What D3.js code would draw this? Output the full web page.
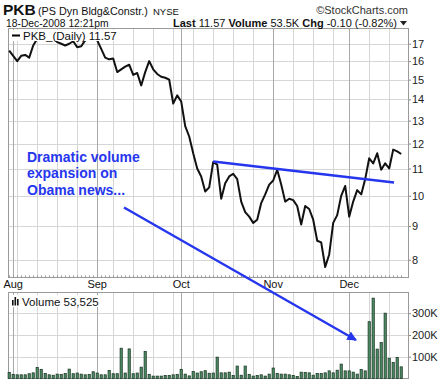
<!DOCTYPE html>
<html><head><meta charset="utf-8">
<script src="https://cdn.jsdelivr.net/npm/d3@7"></script>
<style>
html,body{margin:0;padding:0;background:#fff;}
svg{display:block;font-family:"Liberation Sans",Arial,sans-serif;}
</style></head>
<body>
<script>
// ---- data ----
const dates = ["7/31",
"8/1","8/4","8/5","8/6","8/7","8/8","8/11","8/12","8/13","8/14","8/15","8/18","8/19","8/20","8/21","8/22","8/25","8/26","8/27","8/28","8/29",
"9/2","9/3","9/4","9/5","9/8","9/9","9/10","9/11","9/12","9/15","9/16","9/17","9/18","9/19","9/22","9/23","9/24","9/25","9/26","9/29","9/30",
"10/1","10/2","10/3","10/6","10/7","10/8","10/9","10/10","10/13","10/14","10/15","10/16","10/17","10/20","10/21","10/22","10/23","10/24","10/27","10/28","10/29","10/30","10/31",
"11/3","11/4","11/5","11/6","11/7","11/10","11/11","11/12","11/13","11/14","11/17","11/18","11/19","11/20","11/21","11/24","11/25","11/26","11/28",
"12/1","12/2","12/3","12/4","12/5","12/8","12/9","12/10","12/11","12/12","12/15","12/16","12/17","12/18"];
const closes = [16.6,
16.3,16.0,16.3,16.35,16.2,16.9,17.3,17.45,17.35,17.5,17.35,17.1,17.0,16.9,17.0,17.15,16.8,16.85,17.2,17.45,17.4,
17.2,16.7,16.2,16.1,16.15,15.4,15.55,15.7,15.8,15.25,15.35,14.7,15.4,16.0,15.55,15.3,15.15,15.1,15.0,13.8,14.2,
13.9,12.75,12.3,11.6,11.0,10.7,10.15,10.3,11.25,11.15,9.9,10.45,10.7,10.8,10.6,9.8,9.45,9.3,9.1,9.2,9.75,10.05,10.4,
10.55,10.95,10.4,9.8,9.9,9.85,9.65,9.05,9.65,9.55,9.2,8.55,8.5,7.8,8.15,9.1,9.35,10.0,10.35,
9.3,9.8,10.2,10.05,10.6,11.4,11.2,11.6,10.95,11.2,11.0,11.75,11.68,11.57];
const volumes = [28000,
19000,17000,17000,17000,22000,26000,51000,42000,23000,17000,15000,20000,19000,23000,43000,22000,25000,20000,17000,19000,31000,
25000,17000,17000,37000,22000,22000,139000,25000,136000,22000,25000,52000,124000,19000,11000,11000,11000,14000,14000,17000,19000,
42000,20000,12000,32000,25000,31000,36000,24000,25000,98000,26000,26000,29000,14000,57000,15000,57000,18000,11000,14000,17000,11000,20000,
48000,23000,20000,20000,17000,14000,9000,29000,28000,26000,15000,23000,23000,26000,35000,26000,38000,66000,35000,
35000,29000,20000,41000,35000,261000,369000,135000,165000,300000,93000,74000,96000,53525];
const priceTicks = [8,9,10,11,12,13,14,15,16,17];
const volumeTicks = [100000,200000,300000];
const volumeTickLabels = ["100K","200K","300K"];
const monthLabels = ["Aug","Sep","Oct","Nov","Dec"];
// trendline and arrow annotation in data units (index, price / volume)
const trendIdx = [51, 96.2];
const trendPrice = [11.27, 10.48];
const arrowFrom = {i: 28.7, price: 9.6};
const arrowTo = {i: 86.7, vol: 177000};
const noteLines = ["Dramatic volume","expansion on","Obama news..."];

// ---- layout ----
const W = 440, H = 381;
const L = 8, R = 409;
const pTop = 28.5, pBot = 277.5;
const vTop = 292.5, vBot = 378.5;
const blue = "#2536ee";

const parsed = dates.map(s => { const [m,d] = s.split("/").map(Number); return new Date(2008, m-1, d); });
const x = d3.scaleLinear().domain([-0.3, 99.95]).range([L, R]);
const yP = d3.scaleLog().domain([7.52, 17.93]).range([pBot, pTop]);
const yV = d3.scaleLinear().domain([0, 395000]).range([vBot, vTop]);

const svg = d3.select("body").append("svg").attr("width", W).attr("height", H);

// gridline indices
const monthStarts = [], weekStarts = [];
parsed.forEach((d, i) => {
  if (i === 0) return;
  const p = parsed[i-1];
  if (d.getMonth() !== p.getMonth()) monthStarts.push(i);
  else if (d.getDay() < p.getDay()) weekStarts.push(i);
});

function panel(top, bot, yTicksPix) {
  const g = svg.append("g");
  g.selectAll(".hg").data(yTicksPix).join("line")
    .attr("x1", L).attr("x2", R).attr("y1", d => Math.round(d)+0.5).attr("y2", d => Math.round(d)+0.5)
    .attr("stroke", "#d6d6d6").attr("stroke-width", 1);
  g.selectAll(".wg").data(weekStarts).join("line")
    .attr("x1", d => Math.round(x(d))+0.5).attr("x2", d => Math.round(x(d))+0.5)
    .attr("y1", top).attr("y2", bot).attr("stroke", "#d6d6d6");
  g.selectAll(".mg").data(monthStarts).join("line")
    .attr("x1", d => Math.round(x(d))+0.5).attr("x2", d => Math.round(x(d))+0.5)
    .attr("y1", top).attr("y2", bot).attr("stroke", "#a9a9a9");
  // daily minor ticks at bottom
  g.selectAll(".dt").data(d3.range(dates.length)).join("line")
    .attr("x1", d => Math.round(x(d))+0.5).attr("x2", d => Math.round(x(d))+0.5)
    .attr("y1", bot-2).attr("y2", bot).attr("stroke", "#999");
  g.append("rect").attr("x", L+0.5).attr("y", top).attr("width", R-L-1).attr("height", bot-top)
    .attr("fill", "none").attr("stroke", "#9a9a9a");
  return g;
}

// ---- price panel ----
panel(pTop, pBot, priceTicks.map(yP));

const line = d3.line().x((d, i) => x(i)).y(d => yP(d));
svg.append("path").datum(closes).attr("d", line)
  .attr("fill", "none").attr("stroke", "#111").attr("stroke-width", 2).attr("stroke-linejoin", "round");

// legend (white background)
svg.append("rect").attr("x", 10).attr("y", 30).attr("width", 111).attr("height", 11).attr("fill", "#fff");
svg.append("line").attr("x1", 12).attr("x2", 20).attr("y1", 35.5).attr("y2", 35.5).attr("stroke", "#000").attr("stroke-width", 2);
svg.append("text").attr("x", 23).attr("y", 40).attr("font-size", 11.5).attr("fill", "#111")
  .text("PKB_(Daily) " + closes[closes.length-1].toFixed(2));

// trendline
svg.append("line")
  .attr("x1", x(trendIdx[0])).attr("y1", yP(trendPrice[0]))
  .attr("x2", x(trendIdx[1])).attr("y2", yP(trendPrice[1]))
  .attr("stroke", blue).attr("stroke-width", 2.5);

// right price axis
const pAxis = svg.append("g").attr("transform", `translate(${R},0)`)
  .call(d3.axisRight(yP).tickValues(priceTicks).tickFormat(d3.format("d")).tickSize(2).tickPadding(1));
pAxis.select(".domain").remove();
pAxis.selectAll("text").attr("font-size", 11).attr("fill", "#222").attr("font-family", "Liberation Sans, Arial, sans-serif");
pAxis.selectAll("line").attr("stroke", "#888");

// month labels
const mIdx = [1].concat(monthStarts.slice(1));
svg.selectAll(".ml").data(monthStarts).join("text")
  .attr("x", d => x(d)).attr("y", 288).attr("text-anchor", "middle")
  .attr("font-size", 11).attr("fill", "#111")
  .text((d, i) => monthLabels[i]);

// ---- volume panel ----
panel(vTop, vBot, volumeTicks.map(yV));
svg.append("g").selectAll("rect").data(volumes).join("rect")
  .attr("x", (d, i) => x(i) - 1.1).attr("width", 2.2)
  .attr("y", d => yV(d)).attr("height", d => vBot - yV(d))
  .attr("fill", "#4d8f66").attr("stroke", "#1f3a29").attr("stroke-width", 0.8);

const vAxis = svg.append("g").attr("transform", `translate(${R},0)`)
  .call(d3.axisRight(yV).tickValues(volumeTicks).tickFormat((d, i) => volumeTickLabels[i]).tickSize(2).tickPadding(1));
vAxis.select(".domain").remove();
vAxis.selectAll("text").attr("font-size", 11).attr("fill", "#222").attr("font-family", "Liberation Sans, Arial, sans-serif");
vAxis.selectAll("line").attr("stroke", "#888");

// volume legend
svg.append("rect").attr("x", 10).attr("y", 295).attr("width", 100).attr("height", 12).attr("fill", "#fff");
[[12,300],[14.5,297],[17,299]].forEach(([bx, by]) => {
  svg.append("rect").attr("x", bx).attr("y", by).attr("width", 1.6).attr("height", 305.5 - by).attr("fill", "#111");
});
svg.append("text").attr("x", 22).attr("y", 305.5).attr("font-size", 11.5).attr("fill", "#111")
  .text("Volume " + d3.format(",")(volumes[volumes.length-1]));

// ---- annotation ----
svg.append("defs").append("marker").attr("id", "ah")
  .attr("viewBox", "0 0 10 10").attr("refX", 9).attr("refY", 5)
  .attr("markerWidth", 4).attr("markerHeight", 6).attr("markerUnits", "strokeWidth")
  .attr("orient", "auto")
  .append("path").attr("d", "M0,0 L10,5 L0,10 Z").attr("fill", blue);
svg.append("line")
  .attr("x1", x(arrowFrom.i)).attr("y1", yP(arrowFrom.price))
  .attr("x2", x(arrowTo.i)).attr("y2", yV(arrowTo.vol))
  .attr("stroke", blue).attr("stroke-width", 2.4).attr("marker-end", "url(#ah)");

svg.append("g").selectAll("text").data(noteLines).join("text")
  .attr("x", 27).attr("y", (d, i) => 161.5 + i * 16.8)
  .attr("font-size", 14).attr("font-weight", "bold").attr("fill", blue)
  .text(d => d);

// ---- header ----
const hdr = svg.append("g").attr("fill", "#111");
hdr.append("text").attr("x", 3).attr("y", 15).attr("font-size", 15.5).attr("font-weight", "bold").text("PKB");
hdr.append("text").attr("x", 38).attr("y", 14.5).attr("font-size", 10.8).text("(PS Dyn Bldg&Constr.)");
hdr.append("text").attr("x", 153).attr("y", 14.5).attr("font-size", 9.5).text("NYSE");
hdr.append("text").attr("x", 408).attr("y", 14).attr("text-anchor", "end").attr("font-size", 11).attr("fill", "#333").text("\u00A9StockCharts.com");
hdr.append("text").attr("x", 6).attr("y", 26.5).attr("font-size", 10.3).text("18-Dec-2008 12:21pm");
const info = hdr.append("text").attr("x", 397).attr("y", 26.5).attr("text-anchor", "end").attr("font-size", 11);
info.append("tspan").attr("font-weight", "bold").text("Last");
info.append("tspan").text(" 11.57 ");
info.append("tspan").attr("font-weight", "bold").text("Volume");
info.append("tspan").text(" 53.5K ");
info.append("tspan").attr("font-weight", "bold").text("Chg");
info.append("tspan").text(" -0.10 (-0.82%)");
hdr.append("path").attr("d", "M400,21 L407,21 L403.5,25.5 Z").attr("fill", "#222");
</script>
</body></html>
